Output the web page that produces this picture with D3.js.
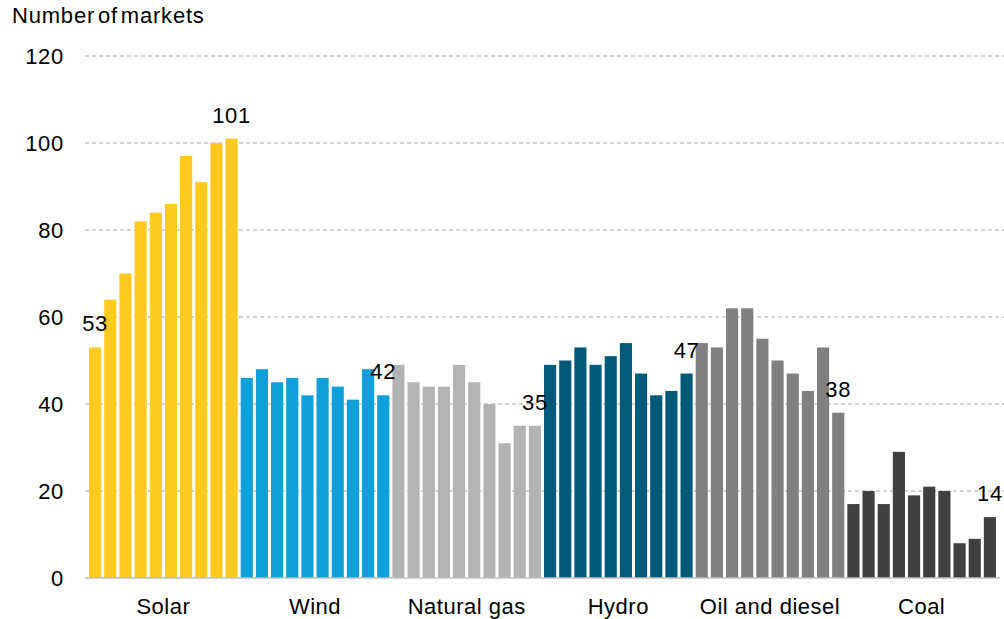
<!DOCTYPE html>
<html>
<head>
<meta charset="utf-8">
<script src="https://cdn.jsdelivr.net/npm/d3@7"></script>
<style>
  body { margin: 0; background: #fff; }
  text { font-family: "Liberation Sans", Arial, sans-serif; fill: #000; }
</style>
</head>
<body>
<svg id="chart" width="1004" height="619"></svg>
<script>
// categories and values (10 bars per technology)
const categories = ["Solar", "Wind", "Natural gas", "Hydro", "Oil and diesel", "Coal"];
const solar = [53, 64, 70, 82, 84, 86, 97, 91, 100, 101];
const wind = [46, 48, 45, 46, 42, 46, 44, 41, 48, 42];
const naturalGas = [49, 45, 44, 44, 49, 45, 40, 31, 35, 35];
const hydro = [49, 50, 53, 49, 51, 54, 47, 42, 43, 47];
const oilDiesel = [54, 53, 62, 62, 55, 50, 47, 43, 53, 38];
const coal = [17, 20, 17, 29, 19, 21, 20, 8, 9, 14];
const yTicks = [0, 20, 40, 60, 80, 100, 120];
const colors = ["#ffc91f", "#0f9fda", "#b3b3b3", "#005a78", "#808080", "#404040"];

const series = [solar, wind, naturalGas, hydro, oilDiesel, coal];

// flatten into one list of bars
let bars = [];
series.forEach((vals, ci) => {
    vals.forEach((v, i) => {
        bars.push({key: ci + "-" + i, cat: ci, idx: i, value: v, last: i === vals.length - 1, first: i === 0});
    })
});

const svg = d3.select("#chart");
const mLeft = 86, mRight = 999, mTop = 56, mBottom = 578;
const FONT = 22;

const x = d3.scaleBand()
    .domain(bars.map(d => d.key))
    .range([mLeft, mRight])
    .paddingInner(0.2)
    .paddingOuter(0.2);

const y = d3.scaleLinear()
    .domain([0, 120])
    .range([mBottom, mTop]);

// title
svg.append("text")
    .attr("x", 12)
    .attr("y", 23)
    .attr("font-size", FONT)
    .attr("letter-spacing", 0.8)
    .attr("word-spacing", -4)
    .text("Number of markets");

// gridlines
svg.append("g")
    .selectAll("line")
    .data(yTicks.filter(t => t > 0))
    .join("line")
    .attr("x1", mLeft - 1)
    .attr("x2", 1004)
    .attr("y1", d => y(d))
    .attr("y2", d => y(d))
    .attr("stroke", "#c4c4c4")
    .attr("stroke-width", 1.3)
    .attr("stroke-dasharray", "4,3");

// y axis labels
const yAxis = svg.append("g")
    .attr("transform", "translate(" + (mLeft - 22) + ",0)")
    .call(d3.axisLeft(y).tickValues(yTicks).tickSize(0).tickPadding(0));
yAxis.select(".domain").remove();
yAxis.selectAll("text")
    .attr("font-size", FONT)
    .attr("letter-spacing", 0.7)
    .attr("dy", "0.35em")
    .style("font-family", "Liberation Sans, Arial, sans-serif");

// bars
svg.append("g")
    .selectAll("rect")
    .data(bars)
    .join("rect")
    .attr("x", d => x(d.key))
    .attr("width", x.bandwidth())
    .attr("y", d => y(d.value))
    .attr("height", d => y(0) - y(d.value))
    .attr("fill", d => colors[d.cat]);

// baseline
svg.append("line")
    .attr("x1", mLeft - 1)
    .attr("x2", 1000)
    .attr("y1", y(0))
    .attr("y2", y(0))
    .attr("stroke", "#bfbfbf")
    .attr("stroke-width", 1.5);

// value labels: first solar bar and last bar of each group
svg.append("g")
    .selectAll("text")
    .data(bars.filter(d => d.last || (d.first && d.cat === 0)))
    .join("text")
    .attr("x", d => x(d.key) + x.bandwidth() / 2)
    .attr("y", d => y(d.value) - 16)
    .attr("text-anchor", "middle")
    .attr("font-size", FONT)
    .attr("letter-spacing", 0.7)
    .text(d => d.value);

// category labels
svg.append("g")
    .selectAll("text")
    .data(categories)
    .join("text")
    .attr("x", (d, i) => {
        let a = x(i + "-0"), b = x(i + "-9") + x.bandwidth();
        return (a + b) / 2;
    })
    .attr("y", 614)
    .attr("text-anchor", "middle")
    .attr("font-size", FONT)
    .attr("letter-spacing", 0.5)
    .text(d => d);
</script>
</body>
</html>
